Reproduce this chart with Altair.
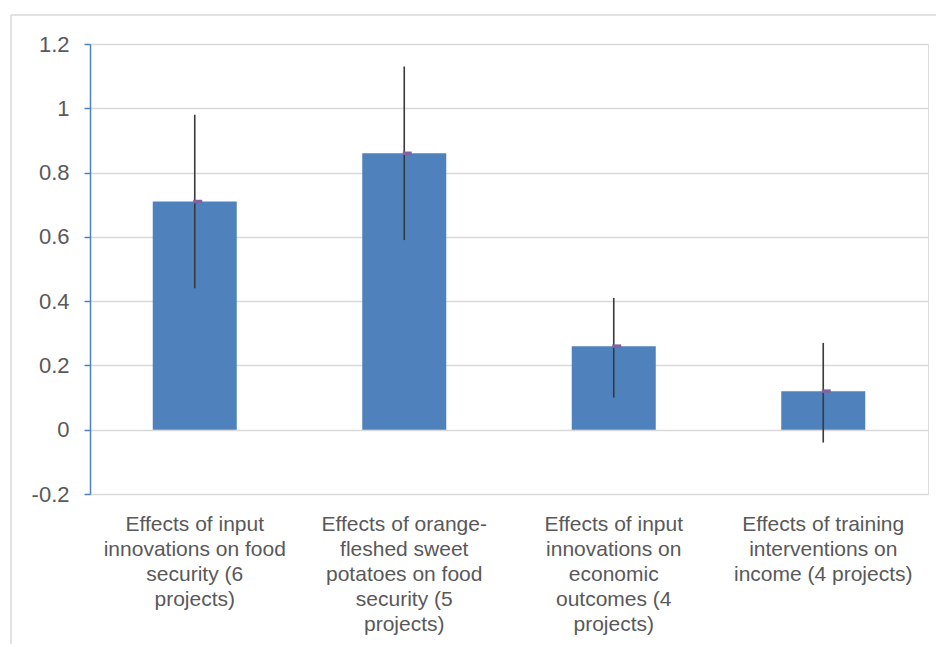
import altair as alt
import pandas as pd

categories = [
    "Effects of input|innovations on food|security (6|projects)",
    "Effects of orange-|fleshed sweet|potatoes on food|security (5|projects)",
    "Effects of input|innovations on|economic|outcomes (4|projects)",
    "Effects of training|interventions on|income (4 projects)",
]
values = [0.71, 0.86, 0.26, 0.12]
lower = [0.44, 0.59, 0.10, -0.04]
upper = [0.98, 1.13, 0.41, 0.27]
y_ticks = [-0.2, 0, 0.2, 0.4, 0.6, 0.8, 1, 1.2]

df = pd.DataFrame({"cat": categories, "value": values, "lo": lower, "hi": upper})

TEXT = "#595959"
FONT = "Liberation Sans"

xenc = alt.X(
    "cat:N",
    sort=categories,
    scale=alt.Scale(paddingInner=0, paddingOuter=0),
    axis=alt.Axis(
        title=None,
        labelAngle=0,
        labelExpr="split(datum.label, '|')",
        labelFont=FONT,
        labelFontSize=21,
        labelLineHeight=25,
        labelColor=TEXT,
        labelPadding=19,
        labelBaseline="top",
        labelLimit=300,
        ticks=False,
        domain=False,
        grid=False,
    ),
)

yscale = alt.Scale(domain=[-0.2, 1.2], nice=False, zero=False)
yaxis = alt.Axis(
    title=None,
    values=y_ticks,
    labelExpr="datum.value < 0 ? '-' + format(-datum.value, '~g') : format(datum.value, '~g')",
    labelFont=FONT,
    labelFontSize=22,
    labelColor=TEXT,
    labelPadding=15,
    tickSize=6,
    tickColor="#4F81BD",
    tickWidth=1.5,
    domainColor="#4F81BD",
    domainWidth=1.5,
    gridColor="#D9D9D9",
    gridWidth=1.5,
)

base = alt.Chart(df)

bars = base.mark_bar(size=84, color="#4F81BD").encode(
    x=xenc,
    y=alt.Y("value:Q", scale=yscale, axis=yaxis),
)

err = base.mark_rule(color="#3A3A3A", strokeWidth=1.6).encode(
    x=alt.X("cat:N", sort=categories),
    y="lo:Q",
    y2="hi:Q",
)

marker = base.mark_tick(color="#8064A2", size=9, thickness=3.5, xOffset=3, opacity=1).encode(
    x=alt.X("cat:N", sort=categories),
    y="value:Q",
)

frame_df = pd.DataFrame({"a": [0]})
frame_v = alt.Chart(frame_df).mark_rule(color="#D9D9D9", strokeWidth=1.5).encode(
    x=alt.value(-79), y=alt.value(-29), y2=alt.value(700)
)
frame_h = alt.Chart(frame_df).mark_rule(color="#D9D9D9", strokeWidth=1.5).encode(
    x=alt.value(-79), x2=alt.value(900), y=alt.value(-29)
)

chart = alt.layer(frame_v, frame_h, bars, err, marker).properties(
    width=838,
    height=450,
    autosize="none",
    padding={"left": 82, "top": 36, "right": 8, "bottom": 150},
).configure_view(stroke=None).configure(background="white")

chart.save("out.html", embed_options={"renderer": "svg", "actions": False})
